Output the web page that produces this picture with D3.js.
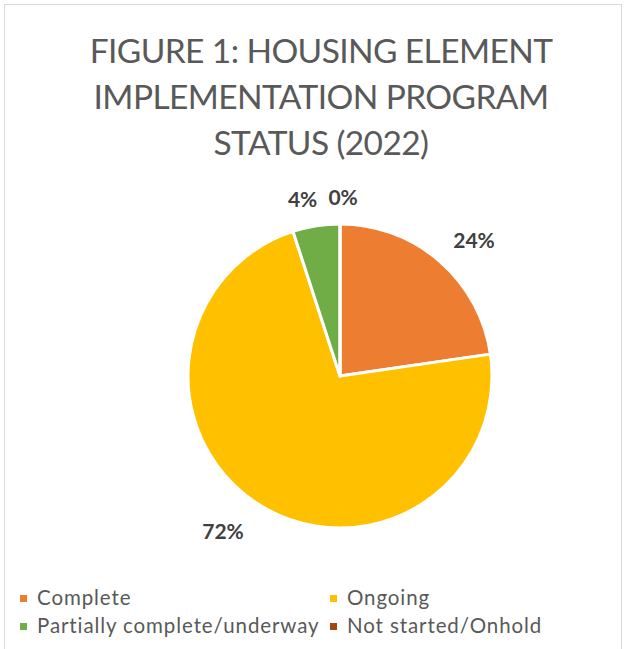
<!DOCTYPE html>
<html><head><meta charset="utf-8">
<script src="https://cdn.jsdelivr.net/npm/d3@7"></script>
<style>html,body{margin:0;padding:0;background:#fff;}svg{display:block;}</style>
</head><body>
<script>
const titleLines = ["FIGURE 1: HOUSING ELEMENT", "IMPLEMENTATION PROGRAM", "STATUS (2022)"];
const categories = ["Complete", "Ongoing", "Partially complete/underway", "Not started/Onhold"];
const values = [22.7, 72.3, 5.0, 0];
const labels = ["24%", "72%", "4%", "0%"];
const colors = ["#ED7D31", "#FFC000", "#70AD47", "#9E480E"];

const W = 626, H = 649;
const svg = d3.select("body").append("svg").attr("width", W).attr("height", H);
svg.append("rect").attr("x", 4.5).attr("y", 4.5).attr("width", 617).attr("height", 660)
  .attr("fill", "#fff").attr("stroke", "#D9D9D9").attr("stroke-width", 1);

const font = "Lato, 'Open Sans', sans-serif";
svg.append("g").selectAll("text").data(titleLines).join("text")
  .attr("x", 321).attr("y", (d, i) => 63 + i * 46)
  .attr("text-anchor", "middle").attr("font-family", font).attr("font-size", 33.5)
  .attr("letter-spacing", -0.6)
  .attr("fill", "#595959").text(d => d);

const cx = 340, cy = 376, r = 152;
const pie = d3.pie().sort(null).value(d => d.v);
const data = categories.map((c, i) => ({c, v: values[i], lab: labels[i], col: colors[i]}));
const arcs = pie(data);
const arc = d3.arc().innerRadius(0).outerRadius(r);
const g = svg.append("g").attr("transform", `translate(${cx},${cy})`);
g.selectAll("path").data(arcs).join("path")
  .attr("d", arc).attr("fill", d => d.data.col)
  .attr("stroke", "#fff").attr("stroke-width", 3).attr("stroke-linejoin", "round");

// label layout: radius + small angular nudges (degrees) per slice
const labelR = [190, 195, 180, 178];
const nudgeDeg = [4, 5, -3, 1];
g.selectAll("text.lab").data(arcs).join("text").attr("class", "lab")
  .each(function(d, i) {
    let a = (d.startAngle + d.endAngle) / 2 + nudgeDeg[i] * Math.PI / 180;
    if (i === 3) a = d.startAngle + nudgeDeg[i] * Math.PI / 180;
    const x = Math.sin(a) * labelR[i], y = -Math.cos(a) * labelR[i];
    d3.select(this).attr("x", x).attr("y", y + 7);
  })
  .attr("text-anchor", "middle").attr("font-family", font).attr("font-weight", "bold")
  .attr("font-size", 21).attr("fill", "#404040").text(d => d.data.lab);

const lg = svg.append("g");
const items = lg.selectAll("g").data(data).join("g")
  .attr("transform", (d, i) => `translate(${i % 2 === 0 ? 20 : 330},${595 + Math.floor(i / 2) * 28})`);
items.append("rect").attr("width", 7).attr("height", 7).attr("fill", d => d.col);
items.append("text").attr("x", 17).attr("y", 10).attr("font-family", font)
  .attr("font-size", 20.5).attr("letter-spacing", 0.9).attr("fill", "#595959").text(d => d.c);
</script>
</body></html>
